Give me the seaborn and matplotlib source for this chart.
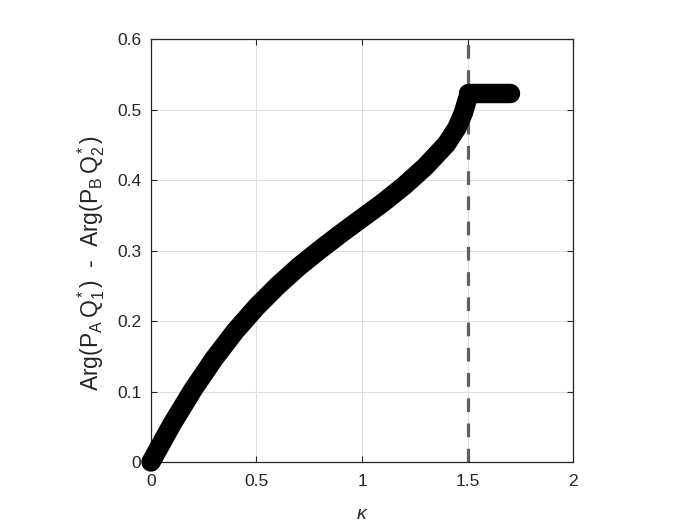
import matplotlib
matplotlib.use("Agg")
import matplotlib.pyplot as plt
import seaborn as sns
import pandas as pd

# values
kappa = [0.0, 0.1, 0.2, 0.3, 0.4, 0.5, 0.6, 0.7, 0.8, 0.9, 1.0, 1.1, 1.2,
         1.3, 1.4, 1.45, 1.48, 1.5]
phase = [0.0, 0.054, 0.103, 0.147, 0.186, 0.220, 0.250, 0.277, 0.301, 0.324,
         0.346, 0.368, 0.392, 0.419, 0.451, 0.474, 0.495, 0.515]
flat_kappa = [1.5, 1.7]
flat_phase = [0.524, 0.524]
kappa_crit = 1.5

sns.set_theme(style="white")
plt.rcParams['font.family'] = ['Liberation Sans', 'DejaVu Sans']
plt.rcParams['mathtext.fontset'] = 'custom'
plt.rcParams['mathtext.rm'] = 'Liberation Sans'
plt.rcParams['mathtext.it'] = 'Liberation Sans:italic'

fig = plt.figure(figsize=(7, 5.25), dpi=100)
ax = fig.add_axes([0.2157, 0.12, 0.6029, 0.8057])

curve = pd.DataFrame({'k': kappa, 'p': phase})
flat = pd.DataFrame({'k': flat_kappa, 'p': flat_phase})

ax.axvline(kappa_crit, color='#606060', lw=2.3, ls=(0, (4.3, 3.6)), zorder=1)
sns.lineplot(data=curve, x='k', y='p', color='black', lw=14, ax=ax,
             solid_capstyle='round', solid_joinstyle='round', clip_on=False, zorder=3)
sns.lineplot(data=flat, x='k', y='p', color='black', lw=14, ax=ax,
             solid_capstyle='round', clip_on=False, zorder=3)

ax.set_xlim(0, 2)
ax.set_ylim(0, 0.6)
ax.set_xticks([0, 0.5, 1, 1.5, 2])
ax.set_xticklabels(['0', '0.5', '1', '1.5', '2'])
ax.set_yticks([0, 0.1, 0.2, 0.3, 0.4, 0.5, 0.6])
ax.set_yticklabels(['0', '0.1', '0.2', '0.3', '0.4', '0.5', '0.6'])
ax.grid(True, color='#dfdfdf', lw=0.8)
ax.set_axisbelow(True)
for s in ax.spines.values():
    s.set_color('#262626')
    s.set_linewidth(0.9)
    s.set_visible(True)
ax.tick_params(direction='in', length=4, width=0.8, color='#262626',
               labelsize=12.5, labelcolor='#262626', top=True, right=True,
               left=True, bottom=True)
ax.tick_params(axis='x', pad=9)
ax.tick_params(axis='y', pad=7)
ax.set_xlabel(r'$\kappa$', fontsize=14, color='#262626', labelpad=12)
ax.set_ylabel(r'Arg(P$_{\rm A}\,$Q$_1^*$)  -  Arg(P$_{\rm B}\,$Q$_2^*$)',
              fontsize=16.5, color='#262626')
ax.yaxis.set_label_coords(-0.105, 0.47)

fig.savefig('out.png', dpi=100, facecolor='white')
